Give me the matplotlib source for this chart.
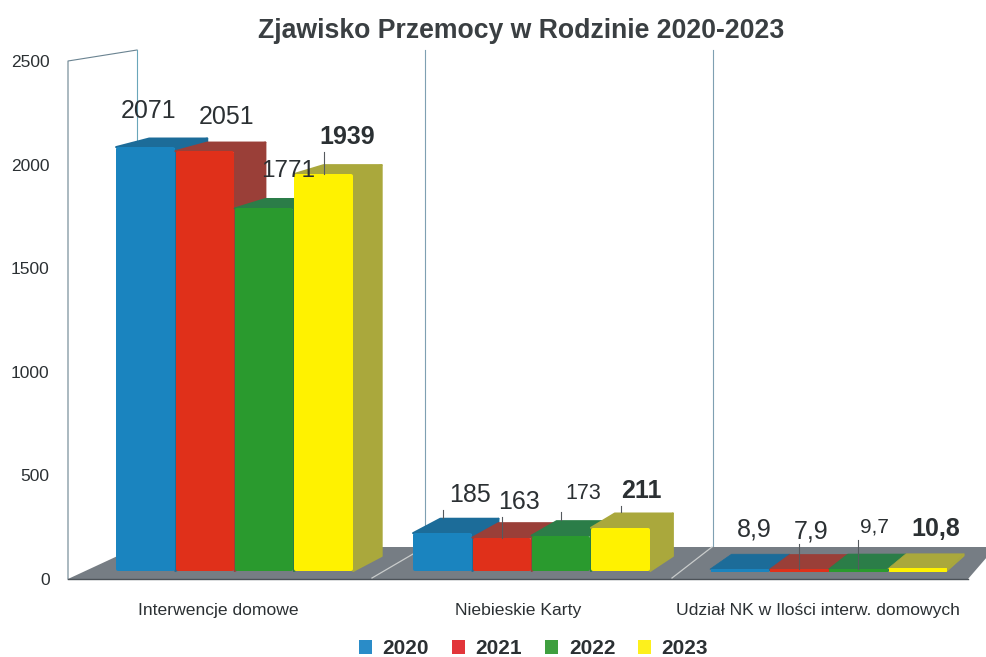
import matplotlib
matplotlib.use("Agg")
import matplotlib.pyplot as plt
from matplotlib.patches import Polygon, Patch

plt.rcParams['font.family'] = ['Liberation Sans', 'DejaVu Sans']

categories = ["Interwencje domowe", "Niebieskie Karty", "Udział NK w Ilości interw. domowych"]
years = ["2020", "2021", "2022", "2023"]
v2020 = [2071, 185, 8.9]
v2021 = [2051, 163, 7.9]
v2022 = [1771, 173, 9.7]
v2023 = [1939, 211, 10.8]
series = [v2020, v2021, v2022, v2023]
value_text = [["2071", "185", "8,9"], ["2051", "163", "7,9"], ["1771", "173", "9,7"], ["1939", "211", "10,8"]]
yticks = [0, 500, 1000, 1500, 2000, 2500]

# layout (pixels)
W, H = 987, 657
AX_L, AX_Y0, AX_Y1 = 68, 579, 61
PX = (AX_Y0 - AX_Y1) / 2500
FRONT_BASE, FRONT_S = 571, 0.2047
BACK_BASE, BACK_S = 556, 0.2016
GROUP0, GROUP_STEP, BAR_W = 116, 297, 59.3

front_cols = ["#1a84bf", "#e0301a", "#2a9a2e", "#fff200"]
top_cols = ["#1c6c99", "#9a3f38", "#2b7d48", "#aaa83c"]
text_col = "#2b3033"

# label offsets from the bar's top centre (px), by series then group
lab_off = [[(3, -36), (27, -38), (15, -40)],
           [(22, -34), (17, -35.6), (12, -38)],
           [(24, -37.5), (22, -41.6), (16, -42)],
           [(24, -37), (21, -37), (18, -40)]]
lab_size = [[18, 18, 18], [18, 18, 18], [17.5, 15.5, 15], [18, 18, 18]]
# leader lines: distance above bar top (px), by series then group
leaders = [[None, (15, 23), None],
           [None, (0, 21), (0, 25)],
           [None, (16, 24), (0, 29)],
           [(0, 22), (16, 22), None]]

fig = plt.figure(figsize=(W / 100, H / 100), dpi=100, facecolor="white")
ax = fig.add_axes([AX_L / W, 1 - AX_Y0 / H, (W - AX_L) / W, (AX_Y0 - AX_Y1) / H])
ax.set_xlim(AX_L, W)
ax.set_ylim(0, 2500)
for s in ax.spines.values():
    s.set_visible(False)


def py(p):
    return (AX_Y0 - p) / PX


def fy(v):
    return py(FRONT_BASE - FRONT_S * v)


def by(v):
    return py(BACK_BASE - BACK_S * v)


def depth(x):
    return 35.4 - 0.0195 * x


# walls
wall = "#7fa0b2"
WALL_TOP = py(50)
ax.plot([68, 68, 137], [0, 2500, WALL_TOP], color="#6a8391", lw=0.8, zorder=1, clip_on=False)
ax.plot([137, 137], [WALL_TOP, py(547)], color="#6aa6ba", lw=0.8, zorder=1, clip_on=False)
for xw in (425, 713):
    ax.plot([xw, xw], [WALL_TOP, py(547)], color=wall, lw=0.8, zorder=1, clip_on=False)

# floor
floor = Polygon([(68, 0), (137, py(547)), (W, py(547)), (W, py(557)), (968, 0)],
                closed=True, fc="#767d84", ec="none", zorder=2, clip_on=False)
ax.add_patch(floor)
ax.plot([68, 968], [0, 0], color="#4c5258", lw=1.0, zorder=2.1, clip_on=False)
for x0, x1 in ((372, 425), (672, 712)):
    ax.plot([x0, x1], [py(578), py(547)], color="#c9cccc", lw=0.9, zorder=2.2)

# bars
z = 3
for g in range(3):
    inset = 2.0 if g < 2 else 0.5
    lw_front = inset * 2 * 0.72
    for s, vals in enumerate(series):
        v = vals[g]
        x0 = GROUP0 + GROUP_STEP * g + BAR_W * s
        x1 = x0 + BAR_W
        top = Polygon([(x0, fy(v)), (x0 + depth(x0), by(v)), (x1 + depth(x1), by(v)), (x1, fy(v))],
                      closed=True, fc=top_cols[s], ec=top_cols[s], lw=1.4 if g < 2 else 0.5,
                      joinstyle="round", zorder=z, clip_on=False)
        side = Polygon([(x1, fy(0)), (x1 + depth(x1), by(0)), (x1 + depth(x1), by(v)), (x1, fy(v))],
                       closed=True, fc=top_cols[s], ec=top_cols[s], lw=1.4 if g < 2 else 0.5,
                       joinstyle="round", zorder=z, clip_on=False)
        ax.add_patch(top)
        ax.add_patch(side)
        ax.bar(x0 + inset + 0.4, (FRONT_S * v - 2 * inset) / PX if g < 2 else FRONT_S * v / PX,
               width=BAR_W - 2 * inset - 0.8, bottom=fy(0) + inset / PX, align="edge",
               color=front_cols[s], edgecolor=front_cols[s], linewidth=lw_front, joinstyle="round",
               zorder=z + 0.5, clip_on=False)
        z += 1

# labels and leader lines
for g in range(3):
    for s, vals in enumerate(series):
        v = vals[g]
        cx = GROUP0 + GROUP_STEP * g + BAR_W * (s + 0.5)
        if leaders[s][g]:
            a, b = leaders[s][g]
            ax.plot([cx, cx], [fy(v) + a / PX, fy(v) + b / PX], color="#555a5e", lw=0.8, zorder=40, clip_on=False)
        dx, dy = lab_off[s][g]
        ax.annotate(value_text[s][g], xy=(cx, fy(v)), xytext=(dx * 0.72, -dy * 0.72),
                    textcoords="offset points", ha="center", va="center",
                    fontsize=lab_size[s][g], color=text_col,
                    fontweight="bold" if s == 3 else "normal", zorder=50)

# axes ticks
ax.set_yticks(yticks)
ax.set_yticklabels([str(t) for t in yticks], fontsize=12.5, color=text_col)
ax.tick_params(axis="y", length=0, pad=13.2)
ax.set_xticks([218, 518, 818])
ax.set_xticklabels(categories, fontsize=12.6, color=text_col)
ax.tick_params(axis="x", length=0, pad=17)

fig.text(521 / W, 1 - 31 / H, "Zjawisko Przemocy w Rodzinie 2020-2023", ha="center", va="center",
         fontsize=19.2, fontweight="bold", color="#3a3f42")

handles = [Patch(fc=c, ec="none", label=y) for c, y in zip(["#2a8cc8", "#e2353a", "#3f9f3f", "#fdf01c"], years)]
fig.legend(handles=handles, loc="center", bbox_to_anchor=(533.5 / W, 1 - 649 / H), ncol=4, frameon=False,
           prop={"size": 15, "weight": "bold"}, labelcolor=text_col, handlelength=0.62, handleheight=0.62,
           handletextpad=0.53, columnspacing=1.08, borderpad=0, borderaxespad=0)

fig.savefig("out.png", dpi=100)
